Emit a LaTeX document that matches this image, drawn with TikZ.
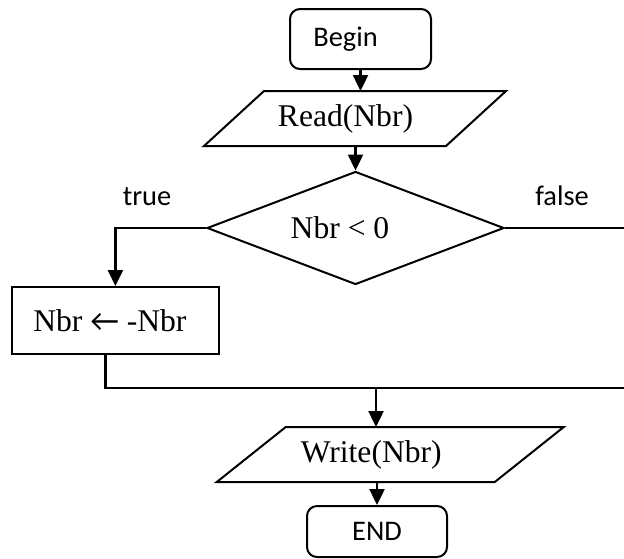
\documentclass[tikz,border=0pt]{standalone}
\usepackage{fontspec}
\setmainfont{Liberation Serif}
\newfontfamily\calibri{Carlito}
\usetikzlibrary{shapes.geometric,arrows.meta}

\begin{document}
\begin{tikzpicture}[x=0.5pt,y=-0.5pt,line width=1pt,
    arr/.style={-{Triangle[width=7.5pt,length=8pt]},line width=1.2pt},
    wire/.style={line width=1.2pt},
    terminal/.style={draw,rounded corners=5pt,inner sep=0pt,
        font=\calibri\fontsize{14.2}{17}\selectfont},
    iotext/.style={rectangle,inner sep=0pt,minimum height=26.5pt,
        font=\fontsize{15.8}{19}\selectfont},
    decision/.style={draw,diamond,shape aspect=2.6,inner sep=0pt,
        font=\fontsize{15.8}{19}\selectfont},
    process/.style={draw,rectangle,inner sep=0pt,
        font=\fontsize{15.8}{19}\selectfont},
    branch/.style={font=\calibri\fontsize{14.2}{17}\selectfont}]
    \useasboundingbox (0,0) rectangle (624,558);

    % blocks
    \node[terminal,minimum width=70.5pt,minimum height=30pt] (begin) at (360.5,39) {Begin\kern15pt};
    \node[iotext,minimum width=120pt] (read) at (355,118.5) {Read(Nbr)\kern9.5pt};
    \draw ([xshift=-15pt]read.south west) -- ([xshift=15pt]read.north west)
        -- ([xshift=15pt]read.north east) -- ([xshift=-15pt]read.south east) -- cycle;
    \node[decision,minimum width=148.5pt,minimum height=56.5pt] (cond) at (355.5,228) {Nbr < 0\kern15.5pt};
    \node[process,minimum width=103.5pt,minimum height=33.5pt] (neg) at (115.4,320.5) {Nbr {\calibri ←} -Nbr\kern5.5pt};
    \node[iotext,minimum width=138pt] (write) at (390.25,454.5) {Write(Nbr)\kern19pt};
    \draw ([xshift=-17.25pt]write.south west) -- ([xshift=17.25pt]write.north west)
        -- ([xshift=17.25pt]write.north east) -- ([xshift=-17.25pt]write.south east) -- cycle;
    \node[terminal,minimum width=70pt,minimum height=25.5pt] (end) at (377,531.5) {END};

    % branch labels
    \node[branch] (lbltrue) at (147,197) {true};
    \node[branch] (lblfalse) at (562,196) {false};

    % join points
    \coordinate (negout) at ([xshift=-5pt]neg.south);
    \coordinate (join) at (376,388);
    \coordinate (rightup) at (627,228);
    \coordinate (rightdown) at (627,388);

    % connectors
    \draw[arr] (begin.south) -- (begin.south |- read.north);
    \draw[arr] (read.south -| cond.north) -- (cond.north);
    \draw[arr] (cond.west) -| (neg.north);
    \draw[wire] (cond.east) -- (rightup) -- (rightdown);
    \draw[wire] (negout) |- (rightdown);
    \draw[arr] (join) -- (join |- write.north);
    \draw[arr] (end.north |- write.south) -- (end.north);
\end{tikzpicture}
\end{document}
